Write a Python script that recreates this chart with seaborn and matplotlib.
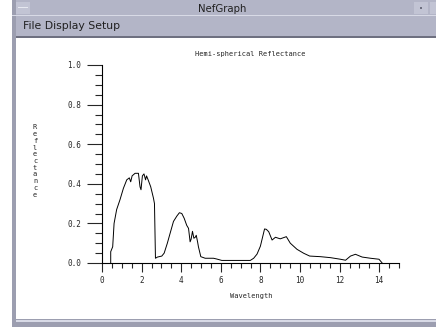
import numpy as np
import matplotlib
matplotlib.use("Agg")
import matplotlib.pyplot as plt
from matplotlib.patches import Rectangle
from matplotlib.ticker import MultipleLocator
import seaborn as sns

# ── Data ───────────────────────────────────────────────────────────────────
wavelength = [0.44, 0.44, 0.54, 0.61, 0.74, 0.91, 1.08, 1.25, 1.38, 1.45, 1.52,
              1.67, 1.84, 1.92, 1.97, 2.04, 2.12, 2.20, 2.25, 2.33, 2.46, 2.60,
              2.65, 2.70, 2.80, 3.02, 3.14, 3.30, 3.44, 3.61, 3.78, 3.91, 4.03,
              4.15, 4.28, 4.37, 4.45, 4.50, 4.57, 4.64, 4.71, 4.76, 4.83, 4.87,
              4.99, 5.21, 5.63, 5.80, 6.05, 7.49, 7.66, 7.83, 8.00, 8.21, 8.30,
              8.42, 8.59, 8.76, 9.00, 9.31, 9.51, 9.85, 10.19, 10.49, 11.03,
              11.54, 12.04, 12.30, 12.55, 12.80, 13.14, 13.56, 13.99, 14.15]
reflectance = [0.0, 0.057, 0.082, 0.20, 0.27, 0.32, 0.377, 0.42, 0.43, 0.41, 0.44,
               0.453, 0.453, 0.385, 0.37, 0.44, 0.45, 0.42, 0.44, 0.42, 0.385, 0.327,
               0.30, 0.024, 0.03, 0.035, 0.05, 0.10, 0.15, 0.21, 0.237, 0.254, 0.25,
               0.226, 0.19, 0.175, 0.107, 0.12, 0.16, 0.125, 0.13, 0.14, 0.105, 0.082,
               0.032, 0.024, 0.024, 0.02, 0.013, 0.013, 0.024, 0.045, 0.085, 0.172, 0.17,
               0.158, 0.116, 0.13, 0.122, 0.133, 0.10, 0.069, 0.049, 0.035, 0.032,
               0.027, 0.019, 0.014, 0.035, 0.044, 0.03, 0.024, 0.019, 0.0]
x_ticks = [0, 2, 4, 6, 8, 10, 12, 14]
y_ticks = [0.0, 0.2, 0.4, 0.6, 0.8, 1.0]

W, H = 436, 327
CHROME = "#b3b5c7"
FRAME = "#9c9eb0"
MONO = "DejaVu Sans Mono"

sns.set_style("white")
fig = plt.figure(figsize=(W / 100, H / 100), dpi=100)
fig.patch.set_facecolor("white")


def px_rect(x0, y0, x1, y1, color, z=0):
    # rectangle in pixel coords, y measured from the top
    fig.patches.append(Rectangle((x0 / W, 1 - y1 / H), (x1 - x0) / W, (y1 - y0) / H,
                                 transform=fig.transFigure, facecolor=color,
                                 edgecolor="none", zorder=z))


# ── Window chrome ──────────────────────────────────────────────────────────
px_rect(12, 0, W, 36, CHROME)
px_rect(12, 36, W, 38, "#6e7080")
px_rect(12, 0, 16, H, FRAME)
px_rect(12, 319, W, H, FRAME)
px_rect(16, 320, W, 322, "#d8dae6")
px_rect(12, 15, W, 16, "#d8dae6")
px_rect(16, 2, 30, 14, "#c2c4d4")
px_rect(18, 7, 28, 8, "#e6e8f0")
px_rect(414, 2, 428, 14, "#c2c4d4")
px_rect(420, 7, 422, 9, "#6e7080")
px_rect(430, 2, W, 14, "#c2c4d4")
fig.text(222 / W, 1 - 9 / H, "NefGraph", ha="center", va="center",
         fontsize=7.3, family="DejaVu Sans", color="#202020")
fig.text(23 / W, 1 - 26 / H, "File Display Setup", ha="left", va="center",
         fontsize=7.8, family="DejaVu Sans", color="#202020")

# ── Plot ───────────────────────────────────────────────────────────────────
x0, x1, y0, y1 = 102, 399, 65, 263
ax = fig.add_axes([x0 / W, 1 - y1 / H, (x1 - x0) / W, (y1 - y0) / H])
ax.set_facecolor("none")
sns.lineplot(x=wavelength, y=reflectance, ax=ax, color="black", linewidth=0.7,
             estimator=None, sort=False)
ax.set_xlim(0, 15)
ax.set_ylim(0, 1.0)
for s in ["top", "right"]:
    ax.spines[s].set_visible(False)
for s in ["left", "bottom"]:
    ax.spines[s].set_linewidth(0.8)
    ax.spines[s].set_color("black")

ax.xaxis.set_major_locator(MultipleLocator(2))
ax.xaxis.set_minor_locator(MultipleLocator(0.5))
ax.yaxis.set_major_locator(MultipleLocator(0.2))
ax.yaxis.set_minor_locator(MultipleLocator(0.05))
ax.set_xticks(x_ticks)
ax.set_xticklabels([str(v) for v in x_ticks])
ax.set_yticks(y_ticks)
ax.set_yticklabels([f"{v:.1f}" for v in y_ticks])
ax.tick_params(axis="x", which="major", direction="out", length=6.5, width=0.8,
               pad=3, labelsize=5.5)
ax.tick_params(axis="x", which="minor", direction="out", length=3.3, width=0.8)
ax.tick_params(axis="y", which="major", direction="out", length=10.8, width=0.8,
               pad=4, labelsize=5.5)
ax.tick_params(axis="y", which="minor", direction="out", length=5, width=0.8)
ax.tick_params(bottom=True, left=True, which="both")
for lab in ax.get_xticklabels() + ax.get_yticklabels():
    lab.set_family(MONO)

fig.text(250 / W, 1 - 54 / H, "Hemi-spherical Reflectance", ha="center", va="center",
         fontsize=5, family=MONO)
fig.text(251 / W, 1 - 296 / H, "Wavelength", ha="center", va="center",
         fontsize=5, family=MONO)
fig.text(35 / W, 1 - 161 / H, "\n".join("Reflectance"), ha="center", va="center",
         fontsize=5, family=MONO, linespacing=1.15)

fig.savefig("out.png", dpi=100)
